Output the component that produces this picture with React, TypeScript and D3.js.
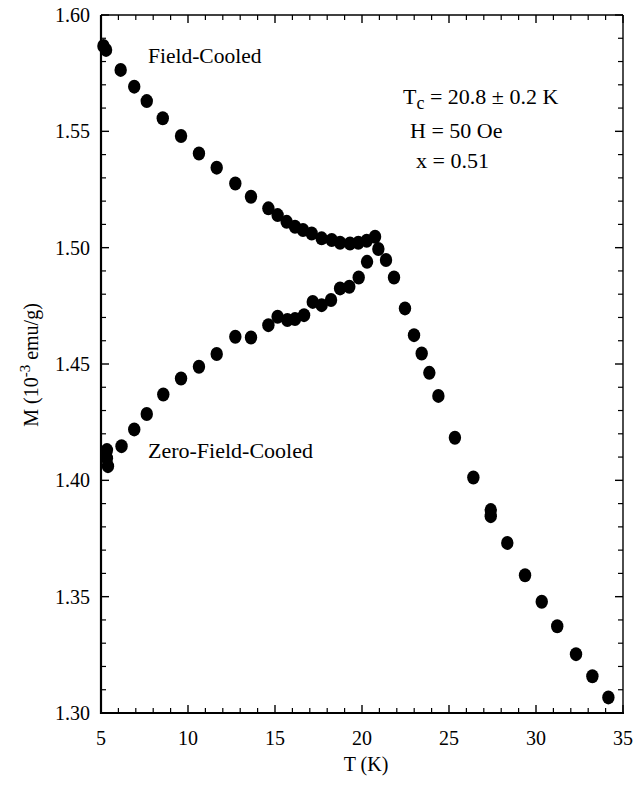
import React from "react";
import * as d3 from "d3";

const fcT = [5.14, 5.29, 6.13, 6.91, 7.63, 8.55, 9.6, 10.63, 11.65, 12.72, 13.62, 14.62, 15.15, 15.67, 16.15, 16.61, 17.11, 17.68, 18.26, 18.74, 19.31, 19.79, 20.27, 20.75];
const fcM = [1.5867, 1.585, 1.5764, 1.5692, 1.563, 1.5556, 1.548, 1.5405, 1.5344, 1.5276, 1.5219, 1.5169, 1.514, 1.5111, 1.509, 1.5076, 1.5061, 1.504, 1.5033, 1.5021, 1.5018, 1.5021, 1.503, 1.5047];

const zfcT = [5.34, 5.34, 5.4, 6.18, 6.91, 7.63, 8.58, 9.6, 10.63, 11.65, 12.72, 13.62, 14.62, 15.15, 15.71, 16.15, 16.67, 17.17, 17.68, 18.22, 18.74, 19.27, 19.81, 20.29];
const zfcM = [1.413, 1.4095, 1.4061, 1.4147, 1.4219, 1.4285, 1.4369, 1.4438, 1.4488, 1.4543, 1.4617, 1.4614, 1.4667, 1.4703, 1.4689, 1.4693, 1.471, 1.4767, 1.4753, 1.4775, 1.4825, 1.4832, 1.4872, 1.4939];

const normT = [20.94, 21.38, 21.84, 22.47, 22.99, 23.43, 23.87, 24.39, 25.34, 26.4, 27.4, 27.4, 28.35, 29.37, 30.33, 31.22, 32.3, 33.24, 34.16];
const normM = [1.4994, 1.4947, 1.4872, 1.4739, 1.4624, 1.4545, 1.4462, 1.4363, 1.4183, 1.4012, 1.3872, 1.3846, 1.3731, 1.3592, 1.3478, 1.3373, 1.3253, 1.3158, 1.3067];

const xTicks = [5, 10, 15, 20, 25, 30, 35];
const yTicks = [1.3, 1.35, 1.4, 1.45, 1.5, 1.55, 1.6];

const FONT = "'Liberation Serif', 'DejaVu Serif', Times, serif";

export default function App() {
  const W = 636, H = 786;
  const L = 101, R = 623, T = 15, B = 713;
  const x = d3.scaleLinear().domain([5, 35]).range([L, R]);
  const y = d3.scaleLinear().domain([1.3, 1.6]).range([B, T]);

  const xMinor = d3.range(5, 35.001, 1).filter((v) => !xTicks.includes(v));
  const yMinor = d3.range(130, 160.001, 1).map((v) => v / 100).filter((v) => !yTicks.some((t) => Math.abs(t - v) < 1e-6));

  const pts: [number, number][] = [];
  fcT.forEach((t, i) => pts.push([t, fcM[i]]));
  zfcT.forEach((t, i) => pts.push([t, zfcM[i]]));
  normT.forEach((t, i) => pts.push([t, normM[i]]));

  const major = 8, minor = 5;
  const ts = { fontFamily: FONT };

  return (
    <svg width={W} height={H} style={{ position: "absolute", left: 0, top: 0, background: "#fff", fontFamily: FONT }}>
      <rect x={0} y={0} width={W} height={H} fill="#fff" />
      <line x1={L} x2={L} y1={T} y2={B + 1} stroke="#000" strokeWidth={2.2} />
      <line x1={L} x2={R + 1} y1={B} y2={B} stroke="#000" strokeWidth={2} />
      <line x1={L} x2={R} y1={T} y2={T} stroke="#000" strokeWidth={1.4} />
      <line x1={R} x2={R} y1={T} y2={B} stroke="#000" strokeWidth={1.4} />
      {xTicks.map((v) => (
        <g key={"xt" + v}>
          <line x1={x(v)} x2={x(v)} y1={B} y2={B - major} stroke="#000" strokeWidth={1.4} />
          <line x1={x(v)} x2={x(v)} y1={T} y2={T + major} stroke="#000" strokeWidth={1.4} />
          <text x={x(v)} y={745} textAnchor="middle" fontSize={20} style={ts}>{v}</text>
        </g>
      ))}
      {xMinor.map((v) => (
        <g key={"xm" + v}>
          <line x1={x(v)} x2={x(v)} y1={B} y2={B - minor} stroke="#000" strokeWidth={1.2} />
          <line x1={x(v)} x2={x(v)} y1={T} y2={T + minor} stroke="#000" strokeWidth={1.2} />
        </g>
      ))}
      {yTicks.map((v) => (
        <g key={"yt" + v}>
          <line x1={L} x2={L + major} y1={y(v)} y2={y(v)} stroke="#000" strokeWidth={1.4} />
          <line x1={R} x2={R - major} y1={y(v)} y2={y(v)} stroke="#000" strokeWidth={1.4} />
          <text x={90} y={y(v) + 7} textAnchor="end" fontSize={20} style={ts}>{v.toFixed(2)}</text>
        </g>
      ))}
      {yMinor.map((v) => (
        <g key={"ym" + v}>
          <line x1={L} x2={L + minor} y1={y(v)} y2={y(v)} stroke="#000" strokeWidth={1.2} />
          <line x1={R} x2={R - minor} y1={y(v)} y2={y(v)} stroke="#000" strokeWidth={1.2} />
        </g>
      ))}
      <text x={366} y={771} textAnchor="middle" fontSize={20} style={ts}>T (K)</text>
      <text transform="translate(38,365) rotate(-90)" textAnchor="middle" fontSize={20} style={ts}>
        M (10<tspan dy={-8} fontSize={15}>-3</tspan><tspan dy={8}> emu/g)</tspan>
      </text>
      <text x={148} y={63} fontSize={21.5} style={ts}>Field-Cooled</text>
      <text x={148} y={458} fontSize={22} style={ts}>Zero-Field-Cooled</text>
      <text x={403} y={104} fontSize={22} style={ts}>
        T<tspan dy={5} fontSize={18}>c</tspan><tspan dy={-5}> = 20.8 ± 0.2 K</tspan>
      </text>
      <text x={410} y={138} fontSize={22} style={ts}>H = 50 Oe</text>
      <text x={416} y={168} fontSize={22} style={ts}>x = 0.51</text>
      {pts.map((p, i) => (
        <ellipse key={"p" + i} cx={x(p[0])} cy={y(p[1])} rx={6.2} ry={7} fill="#000" />
      ))}
    </svg>
  );
}
